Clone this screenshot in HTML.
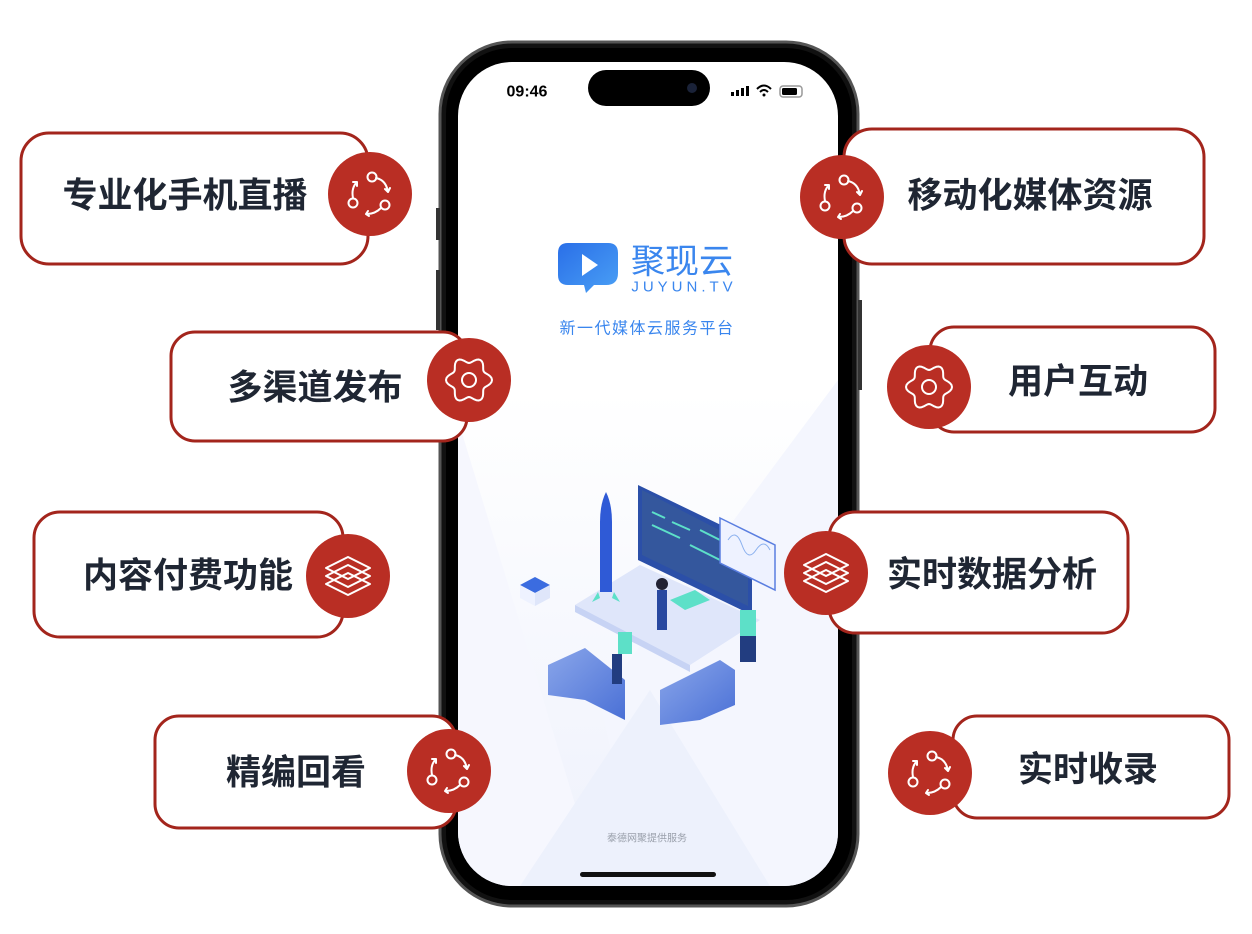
<!DOCTYPE html>
<html><head><meta charset="utf-8">
<style>
html,body{margin:0;padding:0;background:#fff;}
svg{display:block;}
.t{font-family:"Liberation Sans","Noto Sans CJK SC",sans-serif;font-weight:bold;font-size:35px;fill:#1f2633;text-anchor:middle;dominant-baseline:central;}
.box{fill:#fff;stroke:#a3251c;stroke-width:3;}
.c{fill:#b92e24;}
.ic{fill:none;stroke:#fff;stroke-width:2;stroke-linecap:round;stroke-linejoin:round;}
</style></head><body>
<svg id="s" width="1252" height="934" viewBox="0 0 1252 934" xmlns="http://www.w3.org/2000/svg">
<defs>
<linearGradient id="bg" x1="0" y1="0" x2="0" y2="1">
<stop offset="0" stop-color="#ffffff"/><stop offset="0.4" stop-color="#ffffff"/><stop offset="1" stop-color="#eef1fc"/>
</linearGradient>
<linearGradient id="lg" x1="0" y1="0" x2="1" y2="1">
<stop offset="0" stop-color="#2a6fe8"/><stop offset="1" stop-color="#4aa0f5"/>
</linearGradient>
<linearGradient id="blk" x1="0" y1="0" x2="1" y2="1">
<stop offset="0" stop-color="#8aa6ea"/><stop offset="1" stop-color="#4a70d6"/>
</linearGradient>
<clipPath id="scr"><rect x="458" y="62" width="380" height="824" rx="54"/></clipPath>
</defs>
<!-- phone -->
<rect x="440" y="42" width="418" height="864" rx="72" fill="#111" stroke="#555" stroke-width="3"/>
<rect x="446" y="48" width="406" height="852" rx="66" fill="#000"/>
<rect x="436" y="208" width="4" height="32" fill="#333"/>
<rect x="436" y="270" width="4" height="60" fill="#333"/>
<rect x="858" y="300" width="4" height="90" fill="#333"/>
<g clip-path="url(#scr)">
<rect x="458" y="62" width="380" height="824" fill="url(#bg)"/>
<polygon points="458,420 600,886 458,886" fill="#f6f7fe"/>
<polygon points="838,380 838,886 640,886 600,700" fill="#f4f6fe"/>
<polygon points="520,886 650,690 770,886" fill="#edf1fc"/>
</g>
<!-- status bar -->
<text x="527" y="92" font-family="Liberation Sans,sans-serif" font-size="16" font-weight="bold" fill="#000" text-anchor="middle" dominant-baseline="central">09:46</text>
<rect x="588" y="70" width="122" height="36" rx="18" fill="#000"/>
<circle cx="692" cy="88" r="5" fill="#1a2238"/>
<g fill="#000"><rect x="731" y="92" width="3" height="4"/><rect x="736" y="90" width="3" height="6"/><rect x="741" y="88" width="3" height="8"/><rect x="746" y="86" width="3" height="10"/></g>
<path d="M757,89 q7,-7 14,0 M760,92 q4,-4 8,0" stroke="#000" stroke-width="2" fill="none"/><circle cx="764" cy="95" r="1.5"/>
<rect x="780" y="86" width="22" height="11" rx="3" fill="none" stroke="#999" stroke-width="1.5"/><rect x="782" y="88" width="15" height="7" rx="1.5" fill="#000"/>
<!-- logo -->
<path d="M566,243 h42 q10,0 10,10 v20 q0,12 -12,12 h-12 l-8,8 l-2,-8 h-16 q-10,0 -10,-10 v-22 q0,-10 10,-10z" fill="url(#lg)"/>
<polygon points="582,254 582,276 598,265" fill="#fff"/>
<text x="682" y="262" font-family="Liberation Sans,'Noto Sans CJK SC',sans-serif" font-size="34" fill="#3a86ee" text-anchor="middle" dominant-baseline="central">聚现云</text>
<text x="684" y="287" font-family="Liberation Sans,sans-serif" font-size="15" fill="#3a86ee" text-anchor="middle" dominant-baseline="central" letter-spacing="4">JUYUN.TV</text>
<text x="647" y="329" font-family="Liberation Sans,'Noto Sans CJK SC',sans-serif" font-size="16" fill="#3a86ee" text-anchor="middle" dominant-baseline="central" letter-spacing="1.5">新一代媒体云服务平台</text>
<!-- illustration -->
<g>
<polygon points="575,605 640,565 760,620 690,665" fill="#dfe6fa"/>
<polygon points="575,605 690,665 690,672 575,612" fill="#c7d3f4"/>
<polygon points="638,485 752,540 752,615 638,560" fill="#2b4fa8"/>
<polygon points="642,490 748,545 748,606 642,555" fill="#34579d"/>
<g stroke="#5de0c8" stroke-width="2"><line x1="652" y1="512" x2="665" y2="518"/><line x1="672" y1="522" x2="690" y2="530"/><line x1="652" y1="525" x2="680" y2="538"/><line x1="690" y1="545" x2="720" y2="560"/><line x1="700" y1="530" x2="730" y2="545"/></g>
<polygon points="720,518 775,545 775,590 720,563" fill="#eef2ff" stroke="#5a7ee0" stroke-width="1.5"/>
<path d="M728,540 q8,-12 14,5 t14,5 t14,0" stroke="#8ab0ee" fill="none"/>
<path d="M606,492 q-6,12 -6,30 v70 h12 v-70 q0,-18 -6,-30z" fill="#2f5ad6"/>
<path d="M598,592 l-6,10 l8,-4z M614,592 l6,10 l-8,-4z" fill="#5de0c8"/>
<polygon points="520,585 535,577 550,585 535,593" fill="#3b6ce0"/>
<polygon points="520,585 535,593 535,606 520,598" fill="#eef2ff"/>
<polygon points="550,585 535,593 535,606 550,598" fill="#dfe6fa"/>
<polygon points="548,665 585,648 625,680 625,720 585,700 548,695" fill="url(#blk)"/>
<polygon points="660,690 720,660 735,670 735,705 700,720 660,725" fill="url(#blk)"/>
<rect x="657" y="590" width="10" height="40" fill="#2848a0"/>
<circle cx="662" cy="584" r="6" fill="#223"/>
<rect x="618" y="632" width="14" height="22" fill="#5de0c8"/>
<rect x="612" y="654" width="10" height="30" fill="#223d80"/>
<rect x="740" y="610" width="16" height="26" fill="#5de0c8"/>
<rect x="740" y="636" width="16" height="26" fill="#223d80"/>
<polygon points="670,600 695,590 710,600 685,610" fill="#5de0c8"/>
</g>
<text x="647" y="839" font-family="Liberation Sans,'Noto Sans CJK SC',sans-serif" font-size="10" fill="#9aa0ab" text-anchor="middle" dominant-baseline="central">泰德网聚提供服务</text>
<rect x="580" y="872" width="136" height="5" rx="2.5" fill="#111"/>

<!-- boxes -->
<rect class="box" x="21" y="133" width="347" height="131" rx="28"/>
<rect class="box" x="844" y="129" width="360" height="135" rx="28"/>
<rect class="box" x="171" y="332" width="296" height="109" rx="24"/>
<rect class="box" x="930" y="327" width="285" height="105" rx="24"/>
<rect class="box" x="34" y="512" width="309" height="125" rx="26"/>
<rect class="box" x="829" y="512" width="299" height="121" rx="26"/>
<rect class="box" x="155" y="716" width="301" height="112" rx="24"/>
<rect class="box" x="953" y="716" width="276" height="102" rx="24"/>

<text class="t" x="185" y="196">专业化手机直播</text>
<text class="t" x="1030" y="196">移动化媒体资源</text>
<text class="t" x="315" y="388">多渠道发布</text>
<text class="t" x="1078" y="382">用户互动</text>
<text class="t" x="188" y="576">内容付费功能</text>
<text class="t" x="992" y="575">实时数据分析</text>
<text class="t" x="296" y="773">精编回看</text>
<text class="t" x="1088" y="770">实时收录</text>

<g id="icons"></g>
</svg>
<script>
var g=document.getElementById('icons');
function add(h){g.insertAdjacentHTML('beforeend',h);}
function circ(x,y){add('<circle class="c" cx="'+x+'" cy="'+y+'" r="42"/>');}
function cyc(x,y){circ(x,y);
add('<g class="ic" transform="translate('+x+','+y+')"><circle cx="2" cy="-17" r="4.5"/><circle cx="-17" cy="9" r="4.5"/><circle cx="15" cy="11" r="4.5"/>'+
'<path d="M6,-16 q10,2 12,14 M15,-5 l3,3 l2,-4"/><path d="M-13,-12 q-6,6 -4,16 M-17,-12 l4,0 l0,4"/><path d="M11,14 q-6,6 -14,6 M-2,17 l-2,3 l3,2"/></g>');}
function gear(x,y){circ(x,y);var d='';for(var i=0;i<=72;i++){var a=i/72*2*Math.PI,r=20+3*Math.cos(6*a);d+=(i?'L':'M')+(r*Math.cos(a)).toFixed(2)+','+(r*Math.sin(a)).toFixed(2);}
add('<g class="ic" transform="translate('+x+','+y+')"><path d="'+d+'Z"/><circle r="7"/></g>');}
function lay(x,y){circ(x,y);var s='';[-8,0,8].forEach(function(o){s+='<polygon points="0,'+(o-11)+' 22,'+o+' 0,'+(o+11)+' -22,'+o+'"/>';});
add('<g class="ic" transform="translate('+x+','+y+')">'+s+'</g>');}
cyc(370,194);cyc(842,197);gear(469,380);gear(929,387);lay(348,576);lay(826,573);cyc(449,771);cyc(930,773);
</script>
</body></html>
